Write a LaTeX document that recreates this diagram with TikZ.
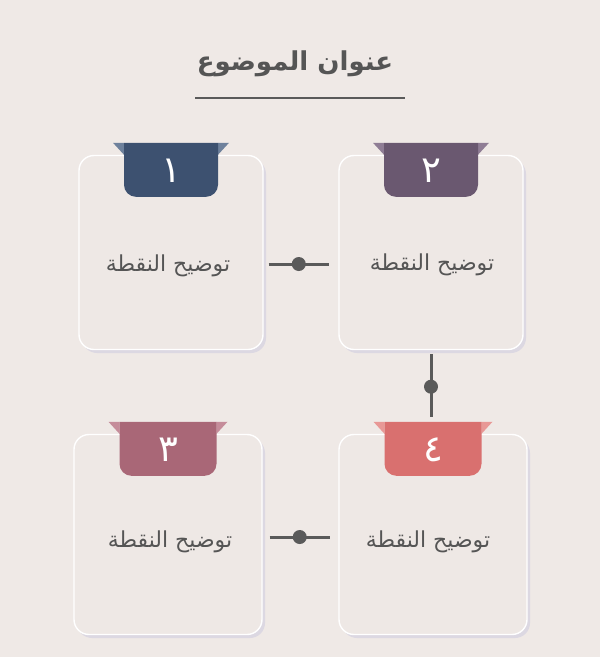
\documentclass[tikz,border=0pt]{standalone}
\usepackage{fontspec}
\usepackage{xcolor}
\usetikzlibrary{calc,shadows}
\newfontfamily\arabicfont[Script=Arabic]{DejaVu Sans}
\TeXXeTstate=1

\definecolor{paper}{HTML}{EFE9E6}
\definecolor{cardfill}{HTML}{EEE8E5}
\definecolor{haze}{HTML}{D8D4E2}
\definecolor{ink}{HTML}{555555}
\definecolor{wire}{HTML}{5A5A5A}
\definecolor{tabnavy}{HTML}{3D5170}
\definecolor{flapnavy}{HTML}{6E819C}
\definecolor{tabplum}{HTML}{6A5870}
\definecolor{flapplum}{HTML}{8F7D95}
\definecolor{tabrose}{HTML}{A96777}
\definecolor{flaprose}{HTML}{C58C9A}
\definecolor{tabcoral}{HTML}{D9706F}
\definecolor{flapcoral}{HTML}{E89896}

\begin{document}
\begin{tikzpicture}[x=1pt,y=-1pt]
\tikzstyle{card}=[shape=rectangle,rounded corners=15pt,draw=white,line width=1.4pt,fill=cardfill,minimum width=184pt,minimum height=194pt,inner sep=0pt,drop shadow={shadow xshift=3pt,shadow yshift=-3.5pt,fill=haze,draw=none,opacity=0.8}]
\tikzstyle{bigcard}=[card,minimum width=188pt,minimum height=200pt]
\tikzstyle{pointtext}=[font=\arabicfont\fontsize{22}{26}\selectfont,text=ink]
\tikzstyle{tabnum}=[font=\arabicfont\fontsize{37}{40}\selectfont,text=white]
\tikzstyle{title}=[font=\arabicfont\bfseries\fontsize{26}{30}\selectfont,text=ink]
\tikzstyle{link}=[draw=wire,line width=3pt]
\tikzstyle{dot}=[shape=circle,fill=wire,minimum size=14pt,inner sep=0pt]

\fill[paper] (0,0) rectangle (600,657);
\useasboundingbox (0,0) rectangle (600,657);

\node[title] (title) at (295,64) {\beginR عنوان الموضوع\endR};
\coordinate (u1) at (195,98);
\coordinate (u2) at (405,98);
\path[draw,draw=wire,line width=2.5pt] (u1) -- (u2);

\node[card] (c1) at (171,252.5) {};
\node[card] (c2) at (431,252.5) {};
\node[bigcard] (c3) at (168,534.5) {};
\node[bigcard] (c4) at (433,534.5) {};

\foreach \i/\dark/\light/\w/\num in {1/tabnavy/flapnavy/47/١,2/tabplum/flapplum/47/٢,3/tabrose/flaprose/48.5/٣,4/tabcoral/flapcoral/48.5/٤}{
  \fill[\light] ($(c\i.north)+(-\w-11,-12)$) -- ($(c\i.north)+(-\w,-12)$) -- ($(c\i.north)+(-\w,0)$) -- cycle;
  \fill[\light] ($(c\i.north)+(\w+11,-12)$) -- ($(c\i.north)+(\w,-12)$) -- ($(c\i.north)+(\w,0)$) -- cycle;
  \fill[\dark] ($(c\i.north)+(-\w,-12)$) -- ($(c\i.north)+(\w,-12)$) -- ($(c\i.north)+(\w,30)$)
    arc[start angle=0,end angle=90,radius=12] -- ($(c\i.north)+(-\w+12,42)$)
    arc[start angle=90,end angle=180,radius=12] -- cycle;
  \node[tabnum] (n\i) at ($(c\i.north)+(0,16)$) {\beginR\num\endR};
}
\coordinate (t4) at ($(c4.north)+(0,-12)$);

\node[pointtext] (l1) at ($(c1)+(-3,13)$) {\beginR توضيح النقطة\endR};
\node[pointtext] (l2) at ($(c2)+(1,12)$) {\beginR توضيح النقطة\endR};
\node[pointtext] (l3) at ($(c3)+(2,7)$) {\beginR توضيح النقطة\endR};
\node[pointtext] (l4) at ($(c4)+(-5,7)$) {\beginR توضيح النقطة\endR};

\path[draw,link,shorten <=5pt,shorten >=9pt] ([yshift=-11.5pt]c1.east) -- node[dot,pos=0.47]{} ([yshift=-11.5pt]c2.west);
\path[draw,link,shorten <=4pt,shorten >=5pt] (c2.south) -- node[dot,pos=0.51]{} (c2.south |- t4);
\path[draw,link,shorten <=7pt,shorten >=8pt] ([yshift=-2.5pt]c3.east) -- node[dot,pos=0.49]{} ([yshift=-2.5pt]c4.west);
\end{tikzpicture}
\end{document}
